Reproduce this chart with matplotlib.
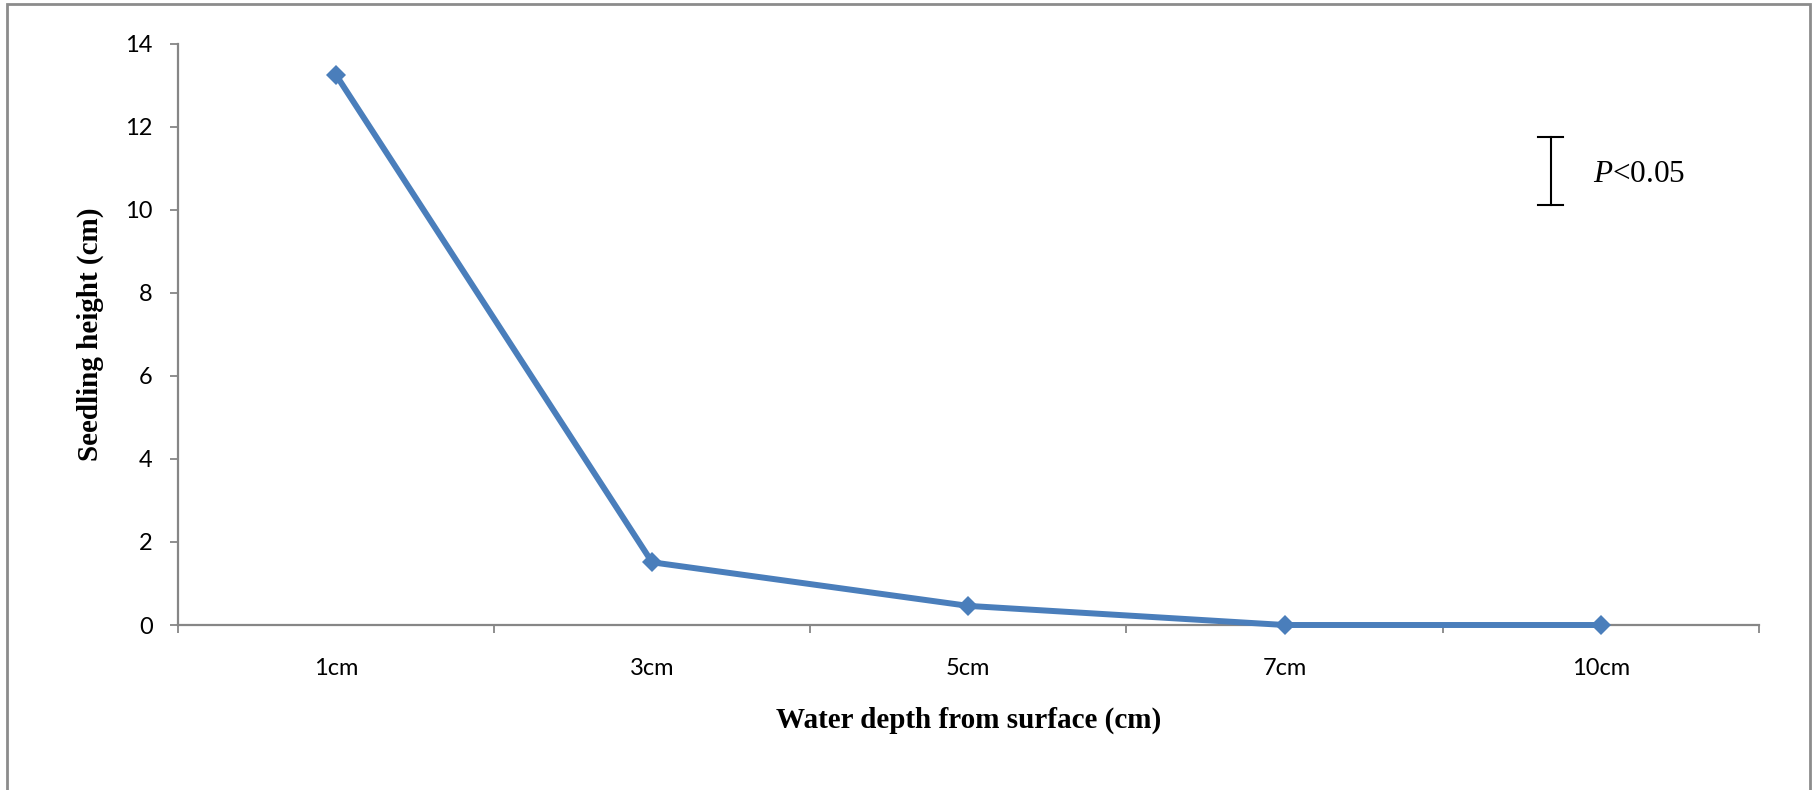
import matplotlib
matplotlib.use("Agg")
import matplotlib.pyplot as plt
from matplotlib.lines import Line2D
from matplotlib.patches import Rectangle

# seedling height at each water depth
depths = ["1cm", "3cm", "5cm", "7cm", "10cm"]
heights = [13.25, 1.51, 0.46, 0.0, 0.0]
y_ticks = [0, 2, 4, 6, 8, 10, 12, 14]

plt.rcParams["mathtext.fontset"] = "custom"
plt.rcParams["mathtext.rm"] = "Liberation Serif"
plt.rcParams["mathtext.it"] = "Liberation Serif:italic"

fig = plt.figure(figsize=(18.16, 7.9), dpi=100)
ax = fig.add_axes([177.7 / 1816, 1 - 625 / 790, (1759 - 177.7) / 1816, (625 - 43.5) / 790])

x = list(range(len(depths)))
ax.plot(x, heights, color="#4A7EBB", lw=4.3, marker="D", ms=10.5,
        markeredgewidth=0, solid_joinstyle="miter", clip_on=False, zorder=3)

# axes styling
axis_grey = "#868686"
for side in ["top", "right"]:
    ax.spines[side].set_visible(False)
for side in ["left", "bottom"]:
    ax.spines[side].set_color(axis_grey)
    ax.spines[side].set_linewidth(1.6)

ax.set_xlim(-0.5, len(depths) - 0.5)
ax.set_ylim(0, 14)
ax.set_yticks(y_ticks)
ax.set_xticks(x)
ax.set_xticklabels(depths)
ax.set_xticks([i - 0.5 for i in range(len(depths) + 1)], minor=True)

ax.tick_params(axis="x", which="major", length=0, pad=24, labelsize=17)
ax.tick_params(axis="x", which="minor", length=6, width=1.3, color=axis_grey)
ax.tick_params(axis="y", length=6, width=1.3, color=axis_grey, pad=12, labelsize=17)
for lab in ax.get_xticklabels() + ax.get_yticklabels():
    lab.set_fontfamily("Lato")

ax.set_xlabel("Water depth from surface (cm)", fontfamily="Liberation Serif",
              fontweight="bold", fontsize=21)
ax.set_ylabel("Seedling height (cm)", fontfamily="Liberation Serif",
              fontweight="bold", fontsize=21)
ax.xaxis.label.set_va("center")
ax.xaxis.set_label_coords(0.5, (625 - 720) / 581.5)
ax.yaxis.label.set_va("center")
ax.yaxis.set_label_coords((90 - 177.7) / 1581.3, 0.5)

# significance marker
W, H = 1816, 790
bar_x, bar_top, bar_bot, cap = 1550.7, 136.7, 204.7, 12.5
fig.add_artist(Line2D([bar_x / W] * 2, [1 - bar_top / H, 1 - bar_bot / H], color="black", lw=1.5))
for yy in (bar_top, bar_bot):
    fig.add_artist(Line2D([(bar_x - cap) / W, (bar_x + cap) / W], [1 - yy / H] * 2,
                          color="black", lw=1.5))
fig.text(1593 / W, 1 - 175 / H, r"$P$<0.05", fontfamily="Liberation Serif",
         fontsize=22.5, va="center", ha="left")

# chart area border
fig.add_artist(Rectangle((7 / W, -0.05), (1810 - 7) / W, 1.05 - 4 / H, fill=False,
                         edgecolor="#8C8C8C", lw=2, transform=fig.transFigure))

fig.savefig("out.png", dpi=100, facecolor="white")
